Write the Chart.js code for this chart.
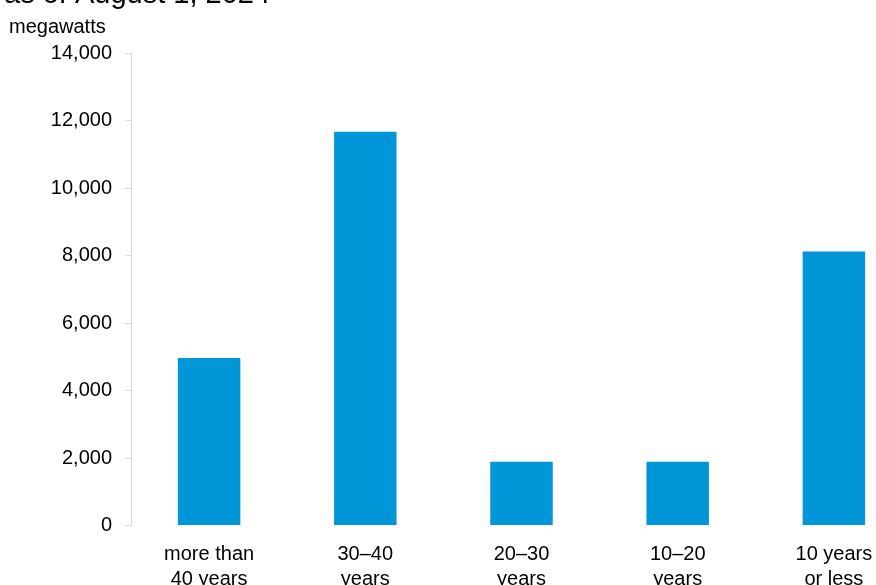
<!DOCTYPE html>
<html>
<head>
<meta charset="utf-8">
<script src="https://cdn.jsdelivr.net/npm/chart.js@4"></script>
<style>
  html, body { margin: 0; padding: 0; background: #fff; overflow: hidden; }
  #wrap { width: 916px; height: 585px; }
</style>
</head>
<body>
<div id="wrap"><canvas id="ageChart" width="916" height="585"></canvas></div>
<script>
// data
const ageGroups = [
  ['more than', '40 years'],
  ['30\u201340', 'years'],
  ['20\u201330', 'years'],
  ['10\u201320', 'years'],
  ['10 years', 'or less'],
];
const capacityMW = [4960, 11670, 1890, 1890, 8120];
const yTicks = [0, 2000, 4000, 6000, 8000, 10000, 12000, 14000];

const titleText = 'as of August 1, 2024';
const unitText = 'megawatts';

const FONT = "'Liberation Sans', Arial, sans-serif";
const AXIS_GRAY = '#d9d9d9';

// texts above the plot (title is cut off at the top edge)
const headerText = {
  id: 'headerText',
  afterDraw(chart) {
    const ctx = chart.ctx;
    ctx.save();
    ctx.fillStyle = '#000';
    ctx.textAlign = 'left';
    ctx.textBaseline = 'alphabetic';
    ctx.font = '29px ' + FONT;
    ctx.fillText(titleText, 4, 3);
    ctx.font = '20px ' + FONT;
    ctx.fillText(unitText, 9, 33);
    ctx.restore();
  }
};

const ageChart = new Chart(document.getElementById('ageChart').getContext('2d'), {
  type: 'bar',
  data: {
    labels: ageGroups,
    datasets: [{
      label: 'capacity',
      data: capacityMW,
      backgroundColor: '#0096D7',
      barPercentage: 0.4,
      categoryPercentage: 1,
    }],
  },
  options: {
    responsive: false,
    devicePixelRatio: 1,
    animation: false,
    layout: { padding: { top: 53, right: 4, left: 0, bottom: 0 } },
    plugins: {
      legend: { display: false },
      tooltip: { enabled: false },
    },
    scales: {
      x: {
        grid: { display: false },
        border: { display: false },
        ticks: {
          color: '#000',
          font: { family: FONT, size: 20, lineHeight: 1.25 },
          padding: 8,
          maxRotation: 0,
          autoSkip: false,
        },
        afterFit(scale) { scale.height = 59.5; },
      },
      y: {
        min: 0,
        max: 14000,
        afterBuildTicks(scale) { scale.ticks = yTicks.map(v => ({ value: v })); },
        grid: { drawOnChartArea: false, drawTicks: true, tickLength: 6, color: AXIS_GRAY },
        border: { display: true, color: AXIS_GRAY, width: 1 },
        ticks: {
          color: '#000',
          font: { family: FONT, size: 20 },
          padding: 13,
          callback: v => v.toLocaleString('en-US'),
        },
        afterFit(scale) { scale.width = 131; },
      },
    },
  },
  plugins: [headerText],
});
</script>
</body>
</html>
